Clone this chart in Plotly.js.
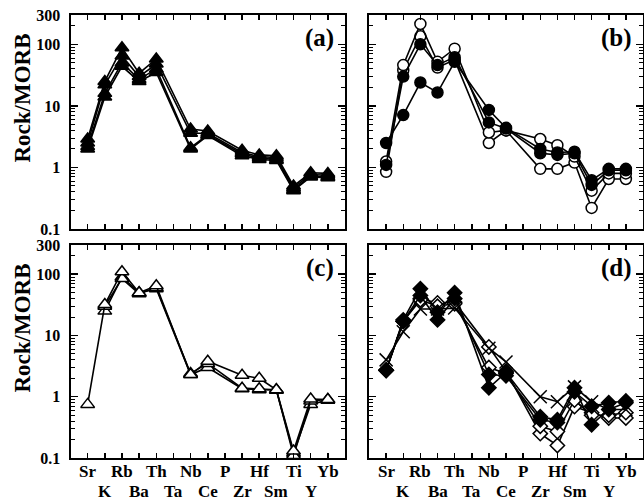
<!DOCTYPE html>
<html>
<head>
<meta charset="utf-8">
<script src="https://cdn.plot.ly/plotly-3.0.1.min.js"></script>
<style>html,body{margin:0;padding:0;background:#fff;}#chart{width:644px;height:502px;}</style>
</head>
<body>
<div id="chart"></div>
<script>
// Element order (MORB-normalised spider diagram)
const elements = ['Sr','K','Rb','Ba','Th','Ta','Nb','Ce','P','Zr','Hf','Sm','Ti','Y','Yb'];
const topRowLabels = ['Sr','Rb','Th','Nb','P','Hf','Ti','Yb'];
const bottomRowLabels = ['K','Ba','Ta','Ce','Zr','Sm','Y'];
const yTickVals = [0.1, 1, 10, 100, 300];
const yTickText = ['0.1', '1', '10', '100', '300'];
const panelLabels = ['(a)', '(b)', '(c)', '(d)'];
const yTitle = 'Rock/MORB';

// Panel (a): filled triangles
const a1 = [2.9, 25, 88, 34, 58, null, 4.2, 3.9, null, 1.9, 1.6, 1.55, 0.5, 0.82, 0.8];
const a2 = [2.5, 22, 65, 30, 48, null, 3.6, 3.6, null, 1.75, 1.5, 1.45, 0.47, 0.76, 0.75];
const a3 = [2.2, 16, 50, 27, 40, null, 2.1, 3.4, null, 1.65, 1.42, 1.35, 0.44, 0.72, 0.7];
const a4 = [2.0, 14, 44, 25, 35, null, 2.0, 3.3, null, 1.55, 1.35, 1.3, 0.42, 0.7, 0.68];

// Panel (b): filled and open circles
const b1 = [2.5, 7.1, 24, 16.5, 52, null, 8.6, 4.4, null, 2.0, 1.75, 1.8, 0.62, 0.95, 0.95];
const b2 = [1.1, 30, 100, 46, 62, null, 5.4, 4.3, null, 1.7, 1.6, 1.7, 0.52, 0.9, 0.9];
const b3 = [1.25, 46, 215, 52, 85, null, 3.7, 4.0, null, 2.9, 2.3, 1.5, 0.42, 0.8, 0.8];
const b4 = [0.85, 38, 135, 42, 56, null, 2.5, 4.0, null, 0.95, 0.95, 1.2, 0.22, 0.65, 0.65];

// Panel (c): open triangles
const c1 = [0.75, 32, 110, 50, 65, null, 2.3, 3.8, null, 2.25, 2.0, 1.3, 0.13, 0.92, 0.9];
const c2 = [null, 25, 90, 50, 58, null, 2.3, 3.0, null, 1.35, 1.3, 1.28, 0.12, 0.75, 0.88];
const c3 = [null, 30, 85, 48, 60, null, 2.4, 3.5, null, 1.38, 1.35, 1.3, 0.11, 0.85, 0.9];

// Panel (d): filled diamonds, crosses, open diamonds
const d1 = [2.7, 18, 58, 24, 50, null, 1.4, 2.5, null, 0.47, 0.42, 1.4, 0.35, 0.62, 0.8];
const d2 = [2.7, 17, 45, 18, 40, null, 2.3, 2.2, null, 0.42, 0.38, 1.2, 0.7, 0.8, 0.85];
const d3 = [4.0, 11.5, 27, 27, 28, null, 6.2, 3.7, null, 1.0, 0.83, 1.45, 0.83, 0.62, 0.62];
const d4 = [2.7, 17, 40, 34, 35, null, 6.5, 2.6, null, 0.25, 0.16, 0.69, 0.55, 0.45, 0.45];
const d5 = [2.7, 17, 38, 30, 33, null, 3.0, 2.4, null, 0.33, 0.27, 0.88, 0.5, 0.5, 0.55];

const FONT = 'Liberation Serif, Times New Roman, serif';

function tr(y, xa, ya, symbol, fill, size) {
  return {
    type: 'scatter', mode: 'lines+markers', x: elements, y: y,
    xaxis: xa, yaxis: ya, connectgaps: true, cliponaxis: false,
    line: {color: '#000', width: 1.6},
    marker: {symbol: symbol, size: size, color: fill, line: {color: '#000', width: 1.5}},
    hoverinfo: 'skip'
  };
}

const traces = [
  tr(a4, 'x', 'y', 'triangle-up', '#000', 12),
  tr(a3, 'x', 'y', 'triangle-up', '#000', 12),
  tr(a2, 'x', 'y', 'triangle-up', '#000', 12),
  tr(a1, 'x', 'y', 'triangle-up', '#000', 12),
  tr(b4, 'x2', 'y2', 'circle', '#fff', 11),
  tr(b3, 'x2', 'y2', 'circle', '#fff', 11),
  tr(b2, 'x2', 'y2', 'circle', '#000', 11),
  tr(b1, 'x2', 'y2', 'circle', '#000', 11),
  tr(c2, 'x3', 'y3', 'triangle-up', '#fff', 12),
  tr(c3, 'x3', 'y3', 'triangle-up', '#fff', 12),
  tr(c1, 'x3', 'y3', 'triangle-up', '#fff', 12),
  tr(d4, 'x4', 'y4', 'diamond', '#fff', 11),
  tr(d5, 'x4', 'y4', 'diamond', '#fff', 11),
  tr(d3, 'x4', 'y4', 'x-thin-open', '#000', 13),
  tr(d2, 'x4', 'y4', 'diamond', '#000', 11),
  tr(d1, 'x4', 'y4', 'diamond', '#000', 11)
];

const W = 644, H = 502;
const leftDom = [70.5 / W, 345 / W];
const rightDom = [369 / W, 643 / W];
const topDom = [1 - 229 / H, 1 - 15 / H];
const botDom = [1 - 458 / H, 1 - 245 / H];

function xax(dom, anchor) {
  return {
    domain: dom, anchor: anchor, type: 'category', categoryarray: elements,
    range: [-1, 15], showgrid: false, zeroline: false,
    showline: true, linecolor: '#000', linewidth: 2, mirror: 'ticks',
    ticks: 'inside', ticklen: 5, tickwidth: 1.5, tickcolor: '#000',
    showticklabels: false, fixedrange: true
  };
}
function yax(dom, anchor, labels) {
  return {
    domain: dom, anchor: anchor, type: 'log', range: [-1, Math.log10(300)],
    showgrid: false, zeroline: false,
    showline: true, linecolor: '#000', linewidth: 2, mirror: 'ticks',
    ticks: 'inside', ticklen: 7, tickwidth: 1.5, tickcolor: '#000',
    tickmode: 'array', tickvals: yTickVals, ticktext: yTickText,
    showticklabels: labels, ticklabelstandoff: 5,
    tickfont: {family: FONT, size: 16, color: '#000', weight: 'bold'},
    minor: {ticks: 'inside', ticklen: 4, tickwidth: 1, tickcolor: '#000', dtick: 'D1', showgrid: false},
    fixedrange: true
  };
}

const annotations = [];
// x-axis element labels (two staggered rows) under the lower panels
['x3', 'x4'].forEach(function (xr) {
  topRowLabels.forEach(function (lab) {
    annotations.push({xref: xr, yref: 'paper', x: lab, y: 1 - 471 / H, yanchor: 'middle',
      text: '<b>' + lab + '</b>', showarrow: false, borderpad: 0,
      font: {family: FONT, size: 17, color: '#000'}});
  });
  bottomRowLabels.forEach(function (lab) {
    annotations.push({xref: xr, yref: 'paper', x: lab, y: 1 - 491 / H, yanchor: 'middle',
      text: '<b>' + lab + '</b>', showarrow: false, borderpad: 0,
      font: {family: FONT, size: 17, color: '#000'}});
  });
});
// y titles
[98.5, 328.5].forEach(function (py) {
  annotations.push({xref: 'paper', yref: 'paper', x: 22 / W, y: 1 - py / H,
    xanchor: 'center', yanchor: 'middle', textangle: -90,
    text: '<b>' + yTitle + '</b>', showarrow: false,
    font: {family: FONT, size: 23, color: '#000'}});
});
// panel labels
[['x', 'y'], ['x2', 'y2'], ['x3', 'y3'], ['x4', 'y4']].forEach(function (p, i) {
  annotations.push({xref: p[0] + ' domain', yref: p[1] + ' domain', x: 1, y: 1,
    xanchor: 'right', yanchor: 'middle', xshift: -9, yshift: -23,
    text: '<b>' + panelLabels[i] + '</b>', showarrow: false,
    font: {family: FONT, size: 25, color: '#000'}});
});

const layout = {
  width: W, height: H, margin: {l: 0, r: 0, t: 0, b: 0, pad: 0},
  paper_bgcolor: '#fff', plot_bgcolor: '#fff', showlegend: false,
  font: {family: FONT, color: '#000'},
  xaxis: xax(leftDom, 'y'), xaxis2: xax(rightDom, 'y2'),
  xaxis3: xax(leftDom, 'y3'), xaxis4: xax(rightDom, 'y4'),
  yaxis: yax(topDom, 'x', true), yaxis2: yax(topDom, 'x2', false),
  yaxis3: yax(botDom, 'x3', true), yaxis4: yax(botDom, 'x4', false),
  annotations: annotations
};

Plotly.newPlot('chart', traces, layout, {staticPlot: true, displayModeBar: false});
</script>
</body>
</html>
